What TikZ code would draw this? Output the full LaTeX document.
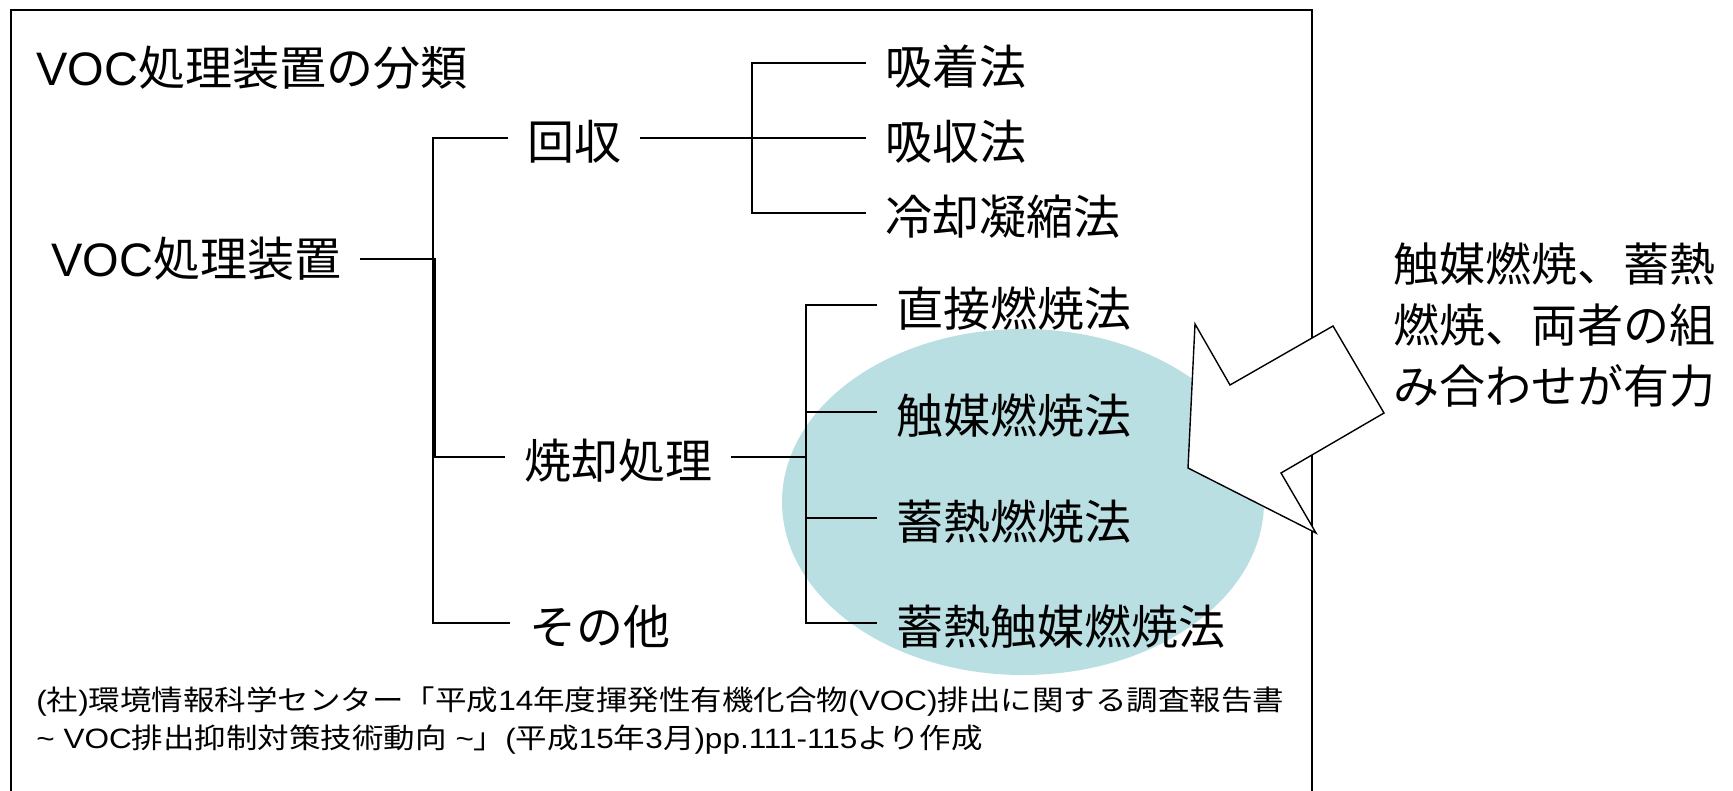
\documentclass[tikz,border=0pt]{standalone}
\usepackage{fontspec}
\setmainfont{Noto Sans CJK JP}
\newfontfamily\lat{Liberation Sans}
\newfontfamily\fnjp[FakeStretch=1.125]{Noto Sans CJK JP}
\newfontfamily\fnlat[FakeStretch=1.125]{Liberation Sans}
\definecolor{ellfill}{RGB}{186,223,227}
\newcommand\bigsz{\fontsize{23.5pt}{30.5pt}\selectfont}
\newcommand\notesz{\fontsize{23pt}{30.5pt}\selectfont}
\newcommand\fnsz{\fontsize{14pt}{19pt}\selectfont}
\newcommand\fl[1]{{\fnlat #1}}
\begin{document}
\begin{tikzpicture}[x=0.5pt,y=-0.5pt,
  lbl/.style={anchor=west,inner sep=0pt,outer xsep=9.5pt,outer ysep=0pt,font=\bigsz,text height=22.5pt,text depth=1pt},
  plain/.style={inner sep=0pt,font=\bigsz},
  thinln/.style={line width=0.7pt},
  thickln/.style={line width=1.3pt},
  framel/.style={line width=1pt}]
\useasboundingbox (0,0) rectangle (1733,791);
\draw[framel] (11,791) -- (11,10) -- (1312,10) -- (1312,791);
\fill[ellfill] (1023,502) ellipse [x radius=120.5pt, y radius=86.5pt];

\node[plain,anchor=west] (title) at (36,68) {{\lat VOC}処理装置の分類};
\node[plain,anchor=east,outer xsep=9.5pt] (root) at (360,259) {{\lat VOC}処理装置};
\node[lbl] (kaishu) at (508,138) {回収};
\node[lbl] (kyuchaku) at (866,63) {吸着法};
\node[lbl] (kyushu) at (866,138) {吸収法};
\node[lbl] (reikyaku) at (866,213) {冷却凝縮法};
\node[lbl] (shokyaku) at (505,457) {焼却処理};
\node[lbl] (chokusetsu) at (877,305) {直接燃焼法};
\node[lbl] (shokubai) at (877,412) {触媒燃焼法};
\node[lbl] (chikunetsu) at (877,518) {蓄熱燃焼法};
\node[lbl] (chikushoku) at (877,623) {蓄熱触媒燃焼法};
\node[lbl] (sonota) at (510,623) {その他};

\coordinate (bx) at (433,138);
\coordinate (mx) at (435,259);
\coordinate (cx) at (752,138);
\coordinate (sx) at (806,457);

\draw[thinln] (kaishu.west) -- (kaishu.west -| bx) -- (sonota.west -| bx) -- (sonota.west);
\draw[thinln] (shokyaku.west -| bx) -- (shokyaku.west);
\draw[thickln] (root.east) -- (mx) -- (shokyaku.west -| mx);

\draw[thickln] (kaishu.east) -- (cx);
\draw[thinln] (kyuchaku.west) -- (kyuchaku.west -| cx) -- (reikyaku.west -| cx) -- (reikyaku.west);
\draw[thinln] (cx) -- (kyushu.west);

\draw[thickln] (shokyaku.east) -- (sx);
\draw[thinln] (chokusetsu.west) -- (chokusetsu.west -| sx) -- (chikushoku.west -| sx) -- (chikushoku.west);
\draw[thinln] (shokubai.west -| sx) -- (shokubai.west);
\draw[thinln] (chikunetsu.west -| sx) -- (chikunetsu.west);

\node[plain,anchor=west,align=left,font=\notesz] (note) at (1393,325) {触媒燃焼、蓄熱\\燃焼、両者の組\\み合わせが有力};

\draw[thinln,fill=white,line join=miter] (1195,324) -- (1230,385) -- (1333,326) -- (1384,413) -- (1281,473) -- (1316,533) -- (1188,468) -- cycle;

\node[inner sep=0pt,anchor=west,align=left,font=\fnjp\fnsz] (src) at (36,721)
  {\fl{(}社\fl{)}環境情報科学センター「平成\fl{14}年度揮発性有機化合物\fl{(VOC)}排出に関する調査報告書\\
   \fl{\char"7E{} VOC}排出抑制対策技術動向\fl{{} \char"7E}」\fl{(}平成\fl{15}年\fl{3}月\fl{)pp.111-115}より作成};
\end{tikzpicture}
\end{document}
